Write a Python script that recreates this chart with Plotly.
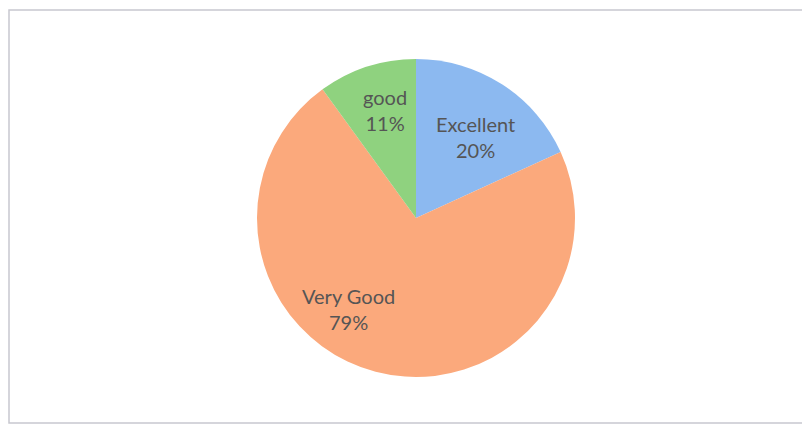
import math
import plotly.graph_objects as go

categories = ["Excellent", "Very Good", "good"]
values = [20, 79, 11]
colors = ["#8cb9f0", "#fba97c", "#8fd27f"]

W, H = 810, 425
# page body adds an 8px offset; positions are in figure pixels
cx, cy, R = 408, 210, 159
# small pixel nudges for label placement (style, like Excel's best-fit)
label_nudge = {"Excellent": (1, 10), "Very Good": (-40, -14), "good": (2, -5)}

fig = go.Figure(go.Pie(
    labels=categories,
    values=values,
    sort=False,
    direction="clockwise",
    rotation=0,
    marker=dict(colors=colors, line=dict(width=0)),
    textinfo="none",
    domain=dict(x=[(cx - R) / W, (cx + R) / W], y=[(H - cy - R) / H, (H - cy + R) / H]),
    showlegend=False,
    hoverinfo="label+value",
))

# data labels placed at each slice's mid-angle
total = sum(values)
start = 0.0
for lab, v in zip(categories, values):
    ang = start + v / total * 360 / 2
    start += v / total * 360
    r = 0.68 * R
    dx, dy = label_nudge.get(lab, (0, 0))
    px = cx + r * math.sin(math.radians(ang)) + dx
    py = cy - r * math.cos(math.radians(ang)) + dy
    fig.add_annotation(
        x=px / W, y=1 - py / H, xref="paper", yref="paper",
        xanchor="center", yanchor="middle",
        text=f"{lab}<br>{v}%", showarrow=False,
        font=dict(family="Lato, Open Sans, sans-serif", size=20, color="#555555"),
        align="center",
    )

fig.add_shape(type="rect", xref="paper", yref="paper",
              x0=1 / W, x1=801 / W, y0=1 - 415 / H, y1=1 - 2 / H,
              line=dict(color="#c8c8d0", width=1.5))

fig.update_layout(
    width=W, height=H,
    margin=dict(l=0, r=0, t=0, b=0),
    paper_bgcolor="white", plot_bgcolor="white",
)

fig.write_html("out.html")
